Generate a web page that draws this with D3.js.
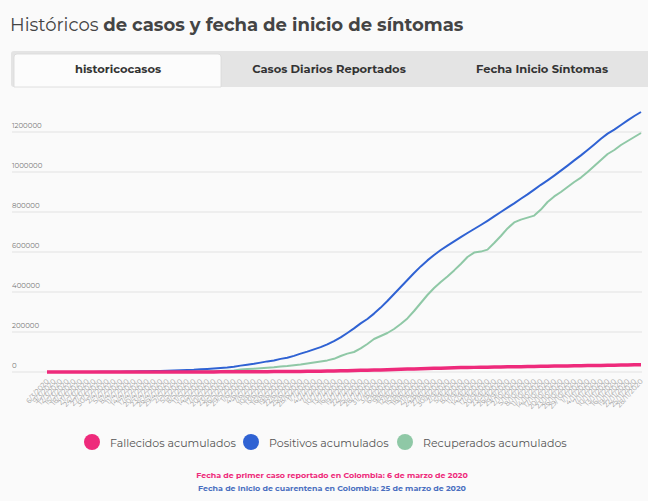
<!DOCTYPE html>
<html>
<head>
<meta charset="utf-8">
<script src="https://cdn.jsdelivr.net/npm/d3@7"></script>
<style>
  body { margin: 0; background: #fafafa; }
  svg { display: block; }
</style>
</head>
<body>
<svg width="648" height="501"></svg>
<script>
// fechas cada 3 dias (d/m/yyyy)
var fechas = [
  "6/3/2020","9/3/2020","12/3/2020","15/3/2020","18/3/2020","21/3/2020","24/3/2020","27/3/2020","30/3/2020",
  "2/4/2020","5/4/2020","8/4/2020","11/4/2020","14/4/2020","17/4/2020","20/4/2020","23/4/2020","26/4/2020","29/4/2020",
  "2/5/2020","5/5/2020","8/5/2020","11/5/2020","14/5/2020","17/5/2020","20/5/2020","23/5/2020","26/5/2020","29/5/2020",
  "1/6/2020","4/6/2020","7/6/2020","10/6/2020","13/6/2020","16/6/2020","19/6/2020","22/6/2020","25/6/2020","28/6/2020",
  "1/7/2020","4/7/2020","7/7/2020","10/7/2020","13/7/2020","16/7/2020","19/7/2020","22/7/2020","25/7/2020","28/7/2020","31/7/2020",
  "3/8/2020","6/8/2020","9/8/2020","12/8/2020","15/8/2020","18/8/2020","21/8/2020","24/8/2020","27/8/2020","30/8/2020",
  "2/9/2020","5/9/2020","8/9/2020","11/9/2020","14/9/2020","17/9/2020","20/9/2020","23/9/2020","26/9/2020","29/9/2020",
  "2/10/2020","5/10/2020","8/10/2020","11/10/2020","14/10/2020","17/10/2020","20/10/2020","23/10/2020","26/10/2020","29/10/2020",
  "1/11/2020","4/11/2020","7/11/2020","10/11/2020","13/11/2020","16/11/2020","19/11/2020","22/11/2020","25/11/2020","28/11/2020"
];

var fallecidos = [
  0,0,0,0,0,2,3,6,12,
  19,35,50,80,127,153,189,206,244,293,
  340,397,445,479,525,574,613,682,776,853,
  1009,1204,1372,1562,1761,1915,2173,2422,2654,3010,
  3300,3800,4300,4800,5400,5900,6500,7166,8269,8777,9454,
  10330,11624,12540,13475,14492,15372,16568,17316,18184,19364,
  20348,21412,22053,22734,23123,23850,24208,24924,25296,25998,
  26397,26844,27331,27834,28306,28970,29464,29923,30430,30926,
  31635,32013,32595,32958,33624,34031,34761,35287,36214,36766
];

var positivos = [
  1,3,9,45,102,210,378,539,798,
  1161,1485,1780,2473,2979,3439,3977,4561,5379,6507,
  7668,8959,10495,11613,13610,15574,17687,20177,23003,26688,
  31833,36759,40719,46858,53063,57046,65633,71367,80599,91769,
  102009,113389,124494,138000,154000,173000,195000,218000,243000,265000,292000,
  322000,355000,390000,425000,460000,495000,528000,558000,585000,610000,
  632000,653000,674000,695000,715000,735000,756000,778000,800000,822000,
  843000,866000,888000,912000,936000,958000,982000,1007000,1032000,1058000,
  1083000,1110000,1138000,1166000,1192000,1212000,1235000,1258000,1280000,1300000
];

var recuperados = [
  0,0,0,0,0,0,3,10,15,
  48,88,123,197,354,727,803,921,1225,1510,
  1807,2107,2569,2846,3360,3751,4247,4895,6101,8000,
  12000,15000,16500,18500,21000,23500,27000,30000,34000,38000,
  43000,48000,53000,58000,66000,80000,92000,100000,118000,140000,165000,
  180000,195000,215000,240000,268000,305000,345000,385000,420000,450000,
  478000,508000,540000,575000,597000,602000,612000,645000,680000,718000,
  748000,762000,772000,782000,812000,850000,878000,900000,925000,950000,
  972000,1000000,1030000,1060000,1090000,1110000,1135000,1155000,1175000,1195000
];

var yTicks = [0, 200000, 400000, 600000, 800000, 1000000, 1200000];

var series = [
  { name: "Fallecidos acumulados", values: fallecidos, color: "#ee2a7b", width: 3.5 },
  { name: "Positivos acumulados", values: positivos, color: "#2f62d3", width: 2 },
  { name: "Recuperados acumulados", values: recuperados, color: "#8fc8a6", width: 2 }
];

var fontMain = "Montserrat, 'DejaVu Sans', sans-serif";

function main() {
  var svg = d3.select("svg");

  // titulo
  var title = svg.append("text")
    .attr("x", 10).attr("y", 31)
    .attr("font-family", fontMain)
    .attr("font-size", "18px")
    .attr("fill", "#444");
  title.append("tspan").text("Históricos ");
  title.append("tspan").attr("font-weight", "bold").text("de casos y fecha de inicio de síntomas");

  // pestañas
  svg.append("rect").attr("x", 11).attr("y", 51).attr("width", 640).attr("height", 36)
    .attr("rx", 3).attr("fill", "#e4e4e4");
  svg.append("path")
    .attr("d", "M14,87 L14,57 Q14,54 17,54 L218,54 Q221,54 221,57 L221,87 Z")
    .attr("fill", "#fcfcfc").attr("stroke", "#d8d8d8").attr("stroke-width", 0.8);
  var tabs = [["historicocasos", 118], ["Casos Diarios Reportados", 329], ["Fecha Inicio Síntomas", 542]];
  svg.selectAll(".tab").data(tabs).enter().append("text")
    .attr("x", function(d){ return d[1]; })
    .attr("y", 73)
    .attr("text-anchor", "middle")
    .attr("font-family", fontMain)
    .attr("font-weight", "bold")
    .attr("font-size", "11.5px")
    .attr("fill", "#333")
    .text(function(d){ return d[0]; });

  var xScale = d3.scalePoint().domain(fechas).range([47, 641]);
  var yScale = d3.scaleLinear().domain([0, 1200000]).range([372, 132]);

  // rejilla y etiquetas eje y
  var grid = svg.append("g");
  grid.selectAll("line").data(yTicks).enter().append("line")
    .attr("x1", 12).attr("x2", 642)
    .attr("y1", function(d){ return yScale(d); })
    .attr("y2", function(d){ return yScale(d); })
    .attr("stroke", "#e2e2e2").attr("stroke-width", 1);
  grid.selectAll("text").data(yTicks).enter().append("text")
    .attr("x", 12)
    .attr("y", function(d){ return yScale(d) - 4; })
    .attr("font-family", fontMain)
    .attr("font-size", "7px")
    .attr("fill", "#777")
    .text(function(d){ return d; });

  // eje x
  var xAxis = svg.append("g").attr("transform", "translate(0,378)")
    .call(d3.axisBottom(xScale).tickSize(0));
  xAxis.select(".domain").remove();
  xAxis.selectAll("text")
    .attr("font-family", fontMain)
    .attr("font-size", "7px")
    .attr("fill", "#999")
    .style("text-anchor", "end")
    .attr("dx", "-.2em")
    .attr("dy", ".1em")
    .attr("transform", "rotate(-48)");

  // lineas
  var line = d3.line()
    .x(function(d, i){ return xScale(fechas[i]); })
    .y(function(d){ return yScale(d); });

  svg.selectAll(".serie").data([series[2], series[1], series[0]]).enter().append("path")
    .attr("class", "serie")
    .attr("fill", "none")
    .attr("stroke", function(d){ return d.color; })
    .attr("stroke-width", function(d){ return d.width; })
    .attr("stroke-linejoin", "round")
    .attr("d", function(d){ return line(d.values); });

  // leyenda
  var legendX = [92, 251, 405];
  var lg = svg.selectAll(".leg").data(series).enter().append("g")
    .attr("transform", function(d, i){ return "translate(" + legendX[i] + ",442)"; });
  lg.append("circle").attr("r", 8).attr("fill", function(d){ return d.color; });
  lg.append("text")
    .attr("x", 18).attr("y", 4.5)
    .attr("font-family", fontMain)
    .attr("font-size", "11px")
    .attr("fill", "#555")
    .text(function(d){ return d.name; });

  // notas
  svg.append("text").attr("x", 332).attr("y", 478).attr("text-anchor", "middle")
    .attr("font-family", fontMain).attr("font-weight", "bold").attr("font-size", "7.9px")
    .attr("fill", "#ee2a7b")
    .text("Fecha de primer caso reportado en Colombia: 6 de marzo de 2020");
  svg.append("text").attr("x", 332).attr("y", 491).attr("text-anchor", "middle")
    .attr("font-family", fontMain).attr("font-weight", "bold").attr("font-size", "7.9px")
    .attr("fill", "#4a6fc0")
    .text("Fecha de inicio de cuarentena en Colombia: 25 de marzo de 2020");
}

main();
</script>
</body>
</html>
